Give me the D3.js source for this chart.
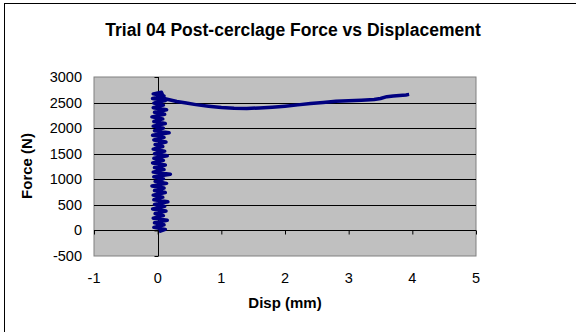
<!DOCTYPE html>
<html>
<head>
<meta charset="utf-8">
<script src="https://cdn.jsdelivr.net/npm/d3@7"></script>
<style>
  body { margin: 0; background: #fff; }
  text { font-family: "Liberation Sans", Arial, sans-serif; fill: #000; }
</style>
</head>
<body>
<script>
// Chart data
var title = 'Trial 04 Post-cerclage Force vs Displacement';
var xTicks = [-1, 0, 1, 2, 3, 4, 5];
var yTicks = [-500, 0, 500, 1000, 1500, 2000, 2500, 3000];

// loading part: force climbs while displacement jitters round zero
var loadDisp = [0.02, 0.12, -0.06, 0.10, -0.05, 0.15, -0.07, 0.09, -0.04, 0.13,
  -0.08, 0.11, -0.05, 0.16, -0.06, 0.08, -0.07, 0.12, -0.05, 0.10,
  -0.09, 0.14, -0.04, 0.09, -0.06, 0.20, -0.07, 0.10, -0.05, 0.12,
  -0.08, 0.09, -0.06, 0.15, -0.05, 0.11, -0.07, 0.08, -0.04, 0.13,
  -0.06, 0.10, -0.08, 0.18, -0.05, 0.09, -0.07, 0.12, -0.06, 0.08,
  -0.09, 0.11, -0.05, 0.14, -0.07, 0.09, -0.06, 0.12, -0.08, 0.10,
  -0.07, 0.06];
var loadForce = [-25, 20, 60, 110, 150, 200, 240, 290, 330, 380,
  420, 470, 510, 560, 600, 650, 690, 740, 780, 830,
  870, 920, 960, 1010, 1050, 1100, 1140, 1190, 1230, 1280,
  1320, 1370, 1410, 1460, 1500, 1550, 1590, 1640, 1680, 1730,
  1770, 1820, 1860, 1910, 1950, 2000, 2040, 2090, 2130, 2180,
  2220, 2270, 2310, 2360, 2400, 2450, 2490, 2540, 2580, 2630,
  2670, 2700];

// plateau part
var plateauDisp = [0.10, 0.20, 0.30, 0.45, 0.60, 0.80, 1.00, 1.20, 1.40, 1.60,
  1.80, 2.00, 2.20, 2.40, 2.60, 2.80, 3.00, 3.20, 3.40, 3.50,
  3.60, 3.70, 3.80, 3.90, 3.95];
var plateauForce = [2580, 2550, 2520, 2490, 2460, 2430, 2405, 2390, 2385, 2395,
  2410, 2430, 2455, 2480, 2500, 2525, 2535, 2545, 2560, 2580,
  2615, 2630, 2640, 2650, 2660];

var width = 576, height = 332;
var plot = { left: 94, right: 476, top: 77, bottom: 256 };

var svg = d3.select('body').append('svg')
  .attr('width', width)
  .attr('height', height);

// chart border (runs past the right and bottom edge)
svg.append('rect')
  .attr('x', 4.5).attr('y', 3.5)
  .attr('width', 600).attr('height', 400)
  .attr('fill', '#fff')
  .attr('stroke', '#000')
  .attr('stroke-width', 1);

var x = d3.scaleLinear().domain([-1, 5]).range([plot.left, plot.right]);
var y = d3.scaleLinear().domain([-500, 3000]).range([plot.bottom, plot.top]);

// plot area
svg.append('rect')
  .attr('x', plot.left).attr('y', plot.top)
  .attr('width', plot.right - plot.left)
  .attr('height', plot.bottom - plot.top)
  .attr('fill', '#c0c0c0')
  .attr('stroke', '#808080');

// horizontal gridlines
svg.append('g').selectAll('line')
  .data(yTicks.filter(function(d) { return d > -500 && d < 3000; }))
  .enter().append('line')
    .attr('x1', plot.left).attr('x2', plot.right)
    .attr('y1', function(d) { return Math.round(y(d)) + 0.5; })
    .attr('y2', function(d) { return Math.round(y(d)) + 0.5; })
    .attr('stroke', '#000');

// x axis sits on force = 0
var xAxis = svg.append('g')
  .attr('transform', 'translate(0,' + (Math.round(y(0)) + 0.5) + ')')
  .call(d3.axisBottom(x).tickValues(xTicks).tickSize(4).tickFormat(''));
xAxis.select('.domain').attr('d', 'M' + plot.left + ',0H' + plot.right);

// y axis sits on disp = 0
var yAxis = svg.append('g')
  .attr('transform', 'translate(' + (Math.round(x(0)) + 0.5) + ',0)')
  .call(d3.axisLeft(y).tickValues(yTicks).tickSize(4).tickFormat(''));
yAxis.select('.domain').attr('d', 'M0,' + plot.top + 'V' + plot.bottom);
svg.selectAll('.domain, .tick line').attr('stroke', '#000');

// tick labels (at the low side of the plot)
svg.append('g').selectAll('text')
  .data(yTicks)
  .enter().append('text')
    .attr('x', 82)
    .attr('y', function(d) { return y(d) + 5; })
    .attr('text-anchor', 'end')
    .attr('font-size', 14.5)
    .text(function(d) { return d; });

svg.append('g').selectAll('text')
  .data(xTicks)
  .enter().append('text')
    .attr('x', function(d) { return x(d); })
    .attr('y', 283)
    .attr('text-anchor', 'middle')
    .attr('font-size', 14.5)
    .text(function(d) { return d; });

// data line
var pts = [];
for (var i = 0; i < loadDisp.length; i++) pts.push([loadDisp[i], loadForce[i]]);
for (var j = 0; j < plateauDisp.length; j++) pts.push([plateauDisp[j], plateauForce[j]]);

svg.append('path')
  .datum(pts)
  .attr('d', d3.line()
    .x(function(d) { return x(d[0]); })
    .y(function(d) { return y(d[1]); }))
  .attr('fill', 'none')
  .attr('stroke', '#000080')
  .attr('stroke-width', 3.5)
  .attr('stroke-linejoin', 'round');

// titles
svg.append('text')
  .attr('x', 293).attr('y', 36)
  .attr('text-anchor', 'middle')
  .attr('font-size', 17.5)
  .attr('font-weight', 'bold')
  .text(title);

svg.append('text')
  .attr('x', 285).attr('y', 308)
  .attr('text-anchor', 'middle')
  .attr('font-size', 15)
  .attr('font-weight', 'bold')
  .text('Disp (mm)');

svg.append('text')
  .attr('transform', 'translate(32,166) rotate(-90)')
  .attr('text-anchor', 'middle')
  .attr('font-size', 15)
  .attr('font-weight', 'bold')
  .text('Force (N)');
</script>
</body>
</html>
